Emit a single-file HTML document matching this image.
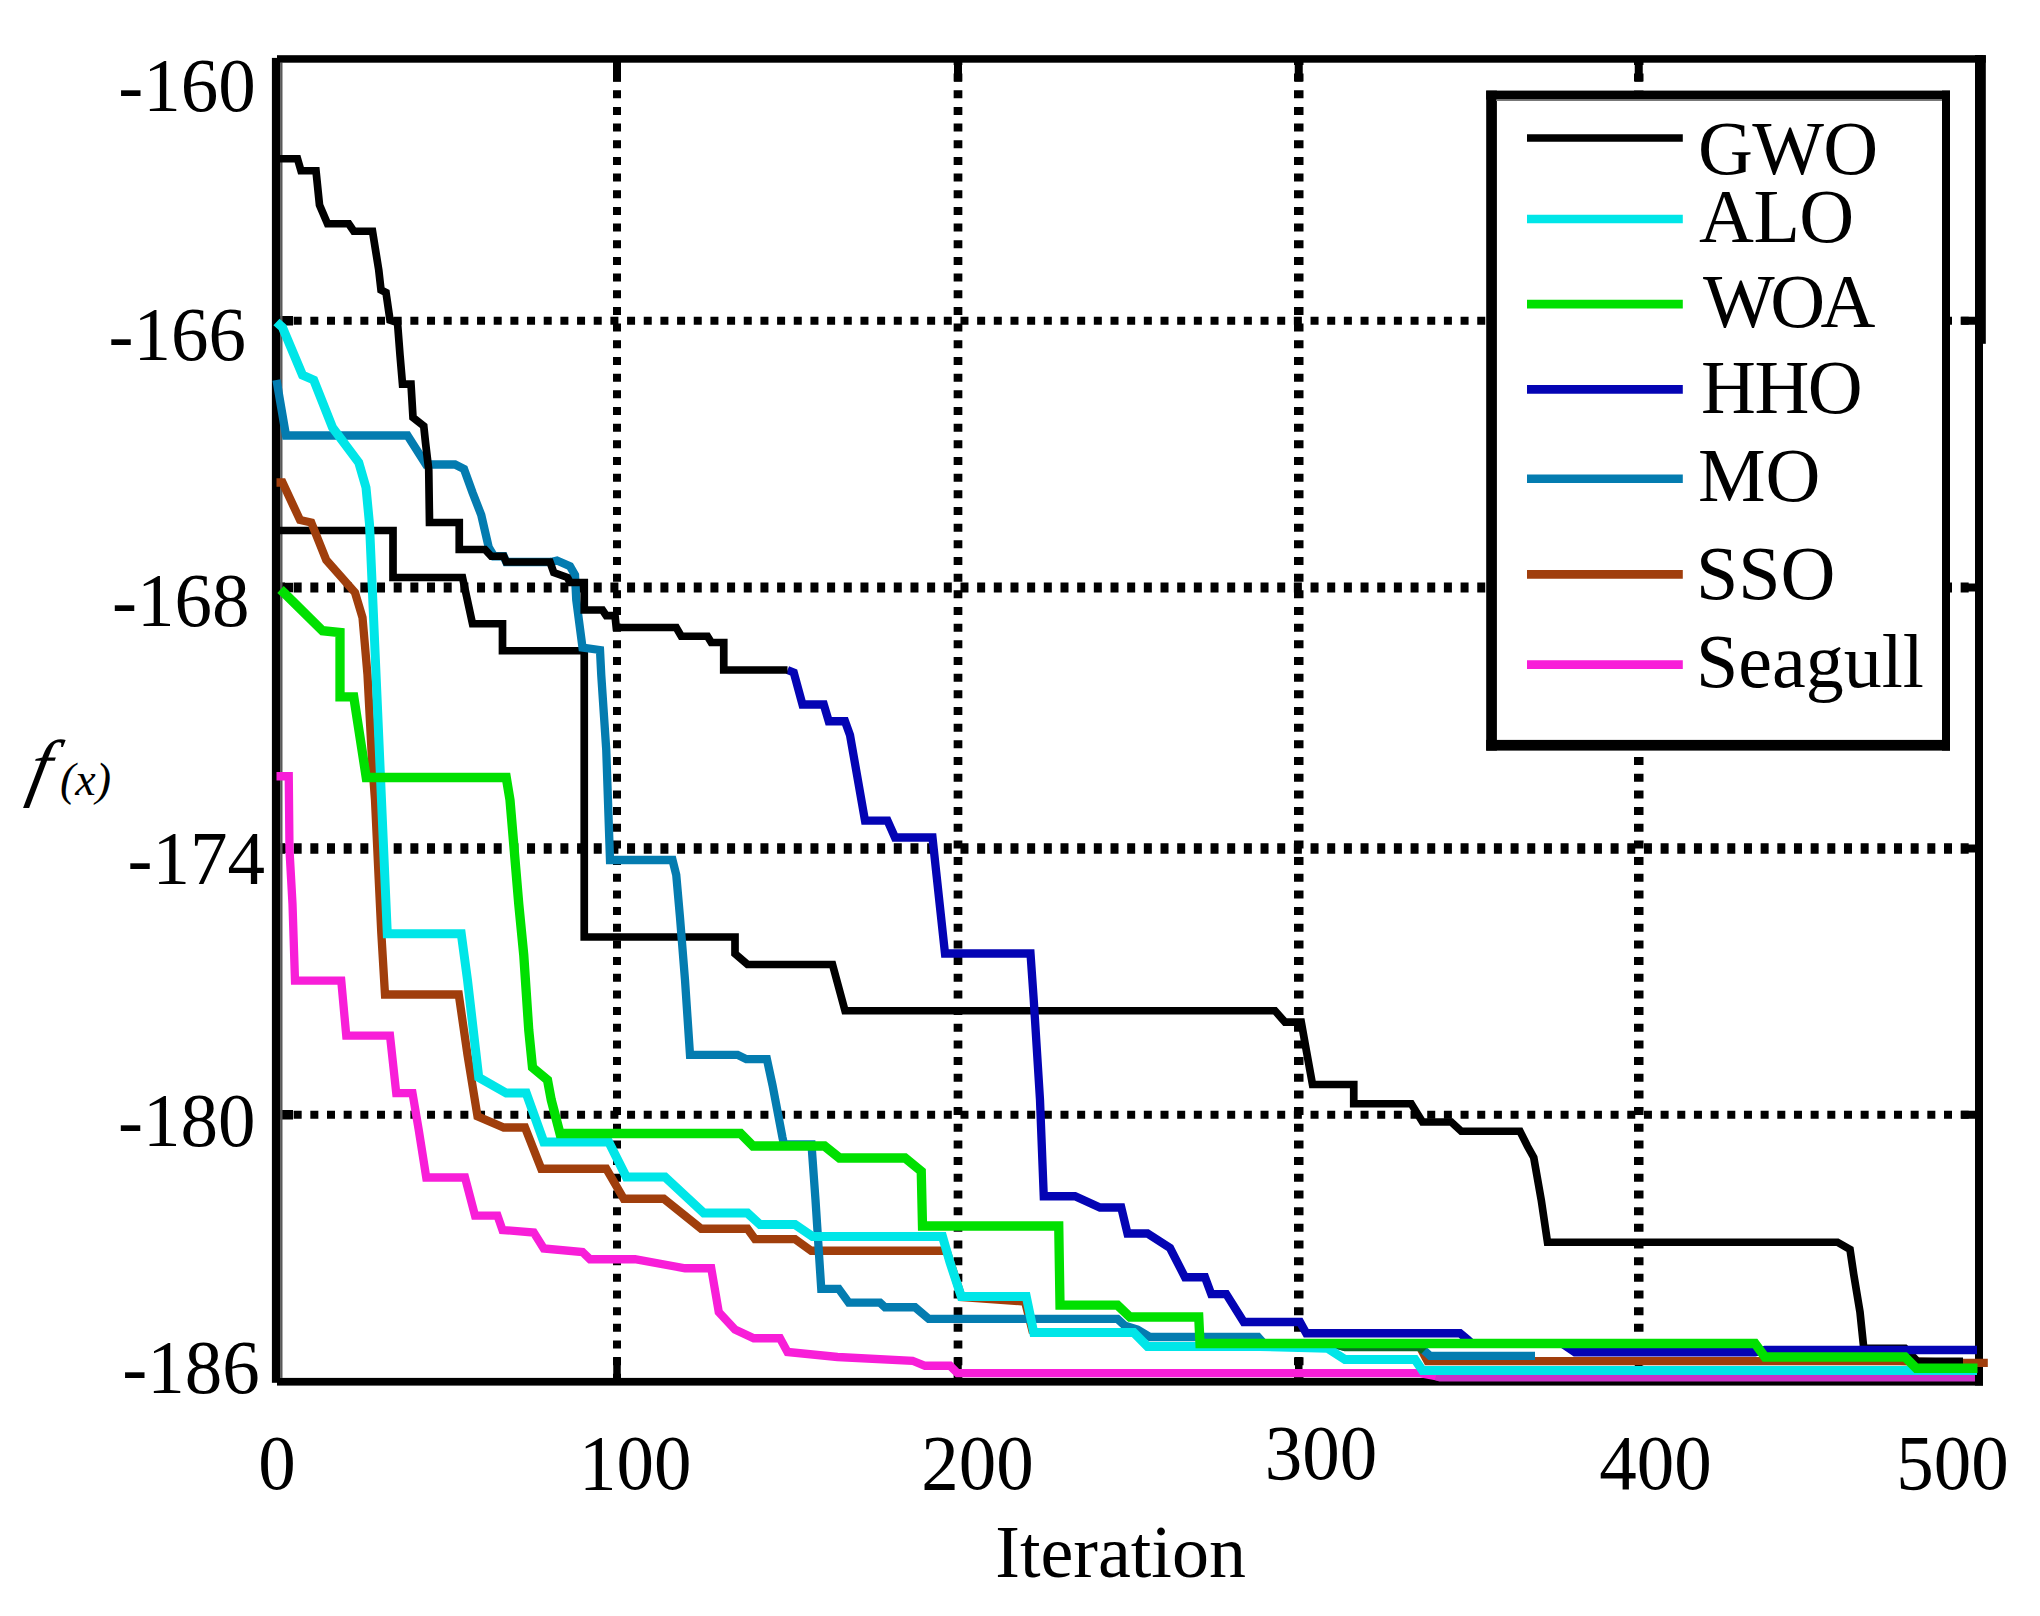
<!DOCTYPE html>
<html lang="en"><head><meta charset="utf-8"><title>Convergence curves</title>
<style>html,body{margin:0;padding:0;background:#fff}svg{display:block}text{font-family:"Liberation Serif",serif;fill:#000}</style></head><body>
<svg width="2040" height="1616" viewBox="0 0 2040 1616">
<rect width="2040" height="1616" fill="#fff"/>
<g stroke="#000" stroke-dasharray="8 8.67" fill="none">
<line x1="617" y1="56.9" x2="617" y2="1383" stroke-width="8"/>
<line x1="958" y1="56.9" x2="958" y2="1383" stroke-width="8.7"/>
<line x1="1298.75" y1="56.9" x2="1298.75" y2="1383" stroke-width="9.5"/>
<line x1="1638.75" y1="56.9" x2="1638.75" y2="1383" stroke-width="9.5"/>
<line x1="277" y1="320.75" x2="1980" y2="320.75" stroke-width="8.2"/>
<line x1="277" y1="587.5" x2="1980" y2="587.5" stroke-width="10"/>
<line x1="277" y1="848.5" x2="1980" y2="848.5" stroke-width="10.6"/>
<line x1="277" y1="1114.75" x2="1980" y2="1114.75" stroke-width="8"/>
</g>
<g fill="#000">
<rect x="613" y="60" width="8" height="21.7"/>
<rect x="613.25" y="1357" width="7.5" height="22"/>
<rect x="954" y="60" width="8" height="21.7"/>
<rect x="954.25" y="1357" width="7.5" height="22"/>
<rect x="1294.75" y="60" width="8" height="21.7"/>
<rect x="1295.0" y="1357" width="7.5" height="22"/>
<rect x="1634.75" y="60" width="8" height="21.7"/>
<rect x="1635.0" y="1357" width="7.5" height="22"/>
<rect x="277" y="316.0" width="16" height="9.5"/>
<rect x="1961.2" y="316.75" width="16" height="8"/>
<rect x="277" y="582.75" width="16" height="9.5"/>
<rect x="1961.2" y="583.5" width="16" height="8"/>
<rect x="277" y="843.75" width="16" height="9.5"/>
<rect x="1961.2" y="844.5" width="16" height="8"/>
<rect x="277" y="1110.0" width="16" height="9.5"/>
<rect x="1961.2" y="1110.75" width="16" height="8"/>
</g>
<g fill="#000">
<rect x="271.9" y="57.9" width="8.2" height="1324.9"/>
<rect x="280.1" y="62.6" width="2.4" height="1315.3" fill="#5a5a5a"/>
<rect x="277" y="55.2" width="1708.8" height="7.5"/>
<rect x="277" y="1377.9" width="1706" height="7.7"/>
<rect x="1975" y="55.2" width="8" height="1330.4"/>
<rect x="1975" y="55.2" width="10.8" height="288.6"/>
</g>
<polyline points="1420,1347 1427.5,1361.2 1900,1361.2 1962,1362.95 1987.8,1362.95" fill="none" stroke="#a03e0c" stroke-width="8.3" stroke-linejoin="miter" stroke-miterlimit="3"/>
<polyline points="1420,1346.8 1430,1355.9 1535,1355.9" fill="none" stroke="#047cb0" stroke-width="8.3" stroke-linejoin="miter" stroke-miterlimit="3"/>
<polyline points="276.5,530.5 393,530.5 393,577.5 462.5,577.5 472.5,623.75 502.5,623.75 502.5,650.75 584.25,650.75 584.25,937 735,937 735,953.75 747.5,964.5 832.5,964.5 845,1010.75 1275,1010.75 1285,1022.12 1301.25,1022.12 1306.25,1050 1312.5,1084.5 1353.75,1084.5 1353.75,1103.75 1411.25,1103.75 1422.5,1122 1451.25,1122 1461.25,1131.25 1520,1131.25 1527.5,1146.25 1533.75,1157.5 1541.25,1200 1547.5,1242.25 1837.5,1242.25 1850,1249.5 1853.75,1274.5 1860,1312 1863.75,1348.25 1905,1348.25 1917.5,1361.38 1963,1361.38" fill="none" stroke="#000000" stroke-width="7.7" stroke-linejoin="miter" stroke-miterlimit="3"/>
<polyline points="276.5,776.25 288.75,776.25 289.5,850 292.5,904 295,980.625 341.25,980.625 346.25,1035.62 390,1035.62 396.25,1093.12 412.5,1093.12 418.75,1130 426.25,1177.5 465,1177.5 475,1215.62 497.5,1215.62 502.5,1230 533.75,1232.5 543.75,1248.5 582.5,1252 590,1259.25 635,1259.25 685,1268.25 711.25,1268.25 718.75,1312 735,1329.5 753.75,1338.25 780,1338.25 787.5,1352 837.5,1357 912.5,1360.75 925,1365.75 950,1365.75 957.5,1373.2 1100,1373.2 1420,1373.2 1440,1377" fill="none" stroke="#f81ed8" stroke-width="8.3" stroke-linejoin="miter" stroke-miterlimit="3"/>
<polyline points="1436,1376 1440,1377.3 1975,1377.3" fill="none" stroke="#c832c8" stroke-width="8.3" stroke-linejoin="miter" stroke-miterlimit="3"/>
<polyline points="276.5,482.5 282.5,482.5 300,520 311.25,522.5 326.25,560 355,592.5 362.5,617.5 367.5,675 372,760 375,800 378.75,880 381.25,932 385,994.5 458.75,994.5 467.5,1055 477.5,1116.25 503.75,1127.5 525,1127.5 541.25,1168.75 606.25,1168.75 623.75,1198.75 663.75,1198.75 701.25,1228.75 747.5,1228.75 755,1239.12 795,1239.12 811.25,1250.75 946.5,1250.75 950.5,1262.5 961.5,1297 1025,1301.5 1033,1333" fill="none" stroke="#a03e0c" stroke-width="8.3" stroke-linejoin="miter" stroke-miterlimit="3"/>
<polyline points="276.5,380 286,435.5 407.5,435.5 426,464.5 455,464.5 464,469 472.5,492.5 481.25,515 488.75,547.5 494,556.25 503.75,556.25 506.25,562 551,562 557,560.5 570,566.25 575,575 576.25,600 582.5,647.5 600,650 601.25,675 606.25,750 610,860 672.5,860 676.25,875 680,917.5 685,980 690,1054.8 737.5,1054.8 746.3,1059.2 766.9,1059.2 772.5,1085 782.5,1137.6 784,1144.5 811.5,1144.5 815.5,1200 821.25,1288.88 838.75,1288.88 848.75,1302.62 880,1302.62 885,1307.25 915,1307.25 928.75,1318.88 1117.5,1318.88 1125,1325.75 1137.5,1329.5 1150,1337 1258,1337 1264,1343.5 1330,1343.5 1345,1346.8 1420,1346.8" fill="none" stroke="#047cb0" stroke-width="8.3" stroke-linejoin="miter" stroke-miterlimit="3"/>
<polyline points="787.5,670 793.75,672.5 802.5,704.5 823.75,704.5 828.75,721.25 845,721.25 850,735 865,820.625 887.5,820.625 895,837.5 932.5,837.5 936.25,872.5 945,953.5 1030.5,953.5 1033.75,1000 1040,1100 1043.75,1196.25 1075,1196.25 1100,1207.5 1121.25,1207.5 1127.5,1233.5 1147.5,1233.5 1170,1248 1185,1277.25 1205,1277.25 1211.25,1294.12 1226.25,1294.12 1243.75,1322 1300,1322 1306.25,1333.25 1460,1333.25 1467.5,1339.5 1472,1343.5 1562,1343.5 1575,1352.25 1755,1352.25 1765,1350 1977,1350" fill="none" stroke="#0404b4" stroke-width="8.3" stroke-linejoin="miter" stroke-miterlimit="3"/>
<polyline points="276.5,158.75 297.5,158.75 301,170.75 316,170.75 319.5,205 327.5,223.75 348.75,223.75 353.75,231.25 372.5,231.25 378.75,270 381,290 386,292.5 390,320 397.5,322.5 400,355 402.5,384.125 411,384.125 413,417.5 423.75,426 425.5,442.5 428.75,470 429.5,522.5 459.25,522.5 459.25,549.5 485,549.5 491.25,556.25 503.75,556.25 506.25,562 550,562 553.75,572.5 567.5,577.5 570,582.5 584.25,582.5 584.25,610 602.5,610 606.25,615.625 615,615.625 616.25,627.5 676.25,627.5 681.25,636.25 707.5,636.25 711.25,642.5 723.75,642.5 723.75,670 787.5,670" fill="none" stroke="#000000" stroke-width="7.7" stroke-linejoin="miter" stroke-miterlimit="3"/>
<polyline points="1338,1345 1345,1347 1420,1347 1424,1351" fill="none" stroke="#0a6a24" stroke-width="8.3" stroke-linejoin="miter" stroke-miterlimit="3"/>
<polyline points="276.5,322 282.5,327.5 302.5,375 313.75,380 332.5,427.5 358.75,462.5 366,487.5 369.5,524 387.3,933.75 461.25,933.75 467.5,980 478.75,1077.5 506.25,1093.12 526.25,1093.12 543.75,1141.88 608.75,1141.88 626.25,1176.88 665,1176.88 703.75,1213.12 747.5,1213.12 760,1224.5 795,1224.5 812.5,1236.5 942.5,1236.5 950,1262.5 961.25,1296.38 1026.25,1296.38 1033.75,1332.62 1133.75,1332.62 1147.5,1346.38 1260,1346.38 1327.5,1348.25 1345,1359.5 1415,1359.5 1422.5,1370.5 1977,1370.5" fill="none" stroke="#00e6e8" stroke-width="9" stroke-linejoin="miter" stroke-miterlimit="3"/>
<polyline points="280.5,589.5 285,593.75 322.5,630.75 340,632.5 340,696.875 353.75,696.875 366.25,777.5 506.25,777.5 510,800 518.75,904 523.75,955 528.75,1030 532.5,1067.5 547.5,1080 551.25,1100 560,1133.5 740.5,1133.5 753,1146 824.5,1146 839.5,1158 905,1158 921.25,1171.25 922.5,1226 1058.75,1226 1060,1305.12 1117.5,1305.12 1130,1317 1198.75,1317 1200,1343.5 1260,1343.5 1530,1343.5 1755,1343.5 1765,1357 1905,1357 1916.25,1368.25 1977.5,1368.25" fill="none" stroke="#00e000" stroke-width="9.3" stroke-linejoin="miter" stroke-miterlimit="3"/>
<rect x="1486.2" y="90.6" width="463.8" height="660" fill="#fff"/>
<g fill="#000">
<rect x="1486.2" y="90.6" width="10.7" height="660"/>
<rect x="1486.2" y="90.6" width="463.8" height="9"/>
<rect x="1496" y="99.4" width="446" height="1.6" fill="#777"/>
<rect x="1942" y="90.6" width="8" height="660"/>
<rect x="1486.2" y="739.9" width="463.8" height="10.7"/>
</g>
<line x1="1527" y1="138" x2="1682.8" y2="138" stroke="#000000" stroke-width="7.7"/>
<text x="1698" y="173.5" font-size="76" letter-spacing="-0.7">GWO</text>
<line x1="1527" y1="219" x2="1682.8" y2="219" stroke="#00e6e8" stroke-width="8.6"/>
<text x="1699" y="241.5" font-size="76" letter-spacing="-0.5">ALO</text>
<line x1="1527" y1="304.1" x2="1682.8" y2="304.1" stroke="#00e000" stroke-width="8.6"/>
<text x="1703" y="327.3" font-size="76" letter-spacing="-4.5">WOA</text>
<line x1="1527" y1="389.4" x2="1682.8" y2="389.4" stroke="#0404b4" stroke-width="8.6"/>
<text x="1701" y="413.1" font-size="76" letter-spacing="-1.5">HHO</text>
<line x1="1527" y1="478.8" x2="1682.8" y2="478.8" stroke="#047cb0" stroke-width="8.6"/>
<text x="1698" y="500.8" font-size="76" letter-spacing="0">MO</text>
<line x1="1527" y1="574.4" x2="1682.8" y2="574.4" stroke="#a03e0c" stroke-width="8.6"/>
<text x="1696" y="599" font-size="76" letter-spacing="0">SSO</text>
<line x1="1527" y1="664.6" x2="1682.8" y2="664.6" stroke="#f81ed8" stroke-width="8.6"/>
<text x="1696" y="686.9" font-size="76" letter-spacing="0">Seagull</text>
<text transform="translate(255.8,111) scale(1,1.02)" font-size="75" text-anchor="end">-160</text>
<text transform="translate(246,359.5) scale(1,1.02)" font-size="75" text-anchor="end">-166</text>
<text transform="translate(249.4,626) scale(1,1.02)" font-size="75" text-anchor="end">-168</text>
<text transform="translate(265,884.3) scale(1,1.02)" font-size="75" text-anchor="end">-174</text>
<text transform="translate(255.6,1146.3) scale(1,1.02)" font-size="75" text-anchor="end">-180</text>
<text transform="translate(259.8,1392.5) scale(1,1.02)" font-size="75" text-anchor="end">-186</text>
<text transform="translate(277,1488.5) scale(1,1.045)" font-size="75" text-anchor="middle">0</text>
<text transform="translate(635.2,1488.5) scale(1,1.045)" font-size="75" text-anchor="middle">100</text>
<text transform="translate(977.5,1488.5) scale(1,1.045)" font-size="75" text-anchor="middle">200</text>
<text transform="translate(1321,1478.5) scale(1,1.045)" font-size="75" text-anchor="middle">300</text>
<text transform="translate(1655.6,1488.5) scale(1,1.045)" font-size="75" text-anchor="middle">400</text>
<text transform="translate(1952.6,1488.5) scale(1,1.045)" font-size="75" text-anchor="middle">500</text>
<text x="1120.6" y="1577" font-size="74" text-anchor="middle">Iteration</text>
<text transform="translate(25.6,792) skewX(-11.6)" font-size="75" font-style="italic">f</text>
<text x="60" y="795" font-size="46" font-style="italic">(x)</text>
</svg></body></html>
